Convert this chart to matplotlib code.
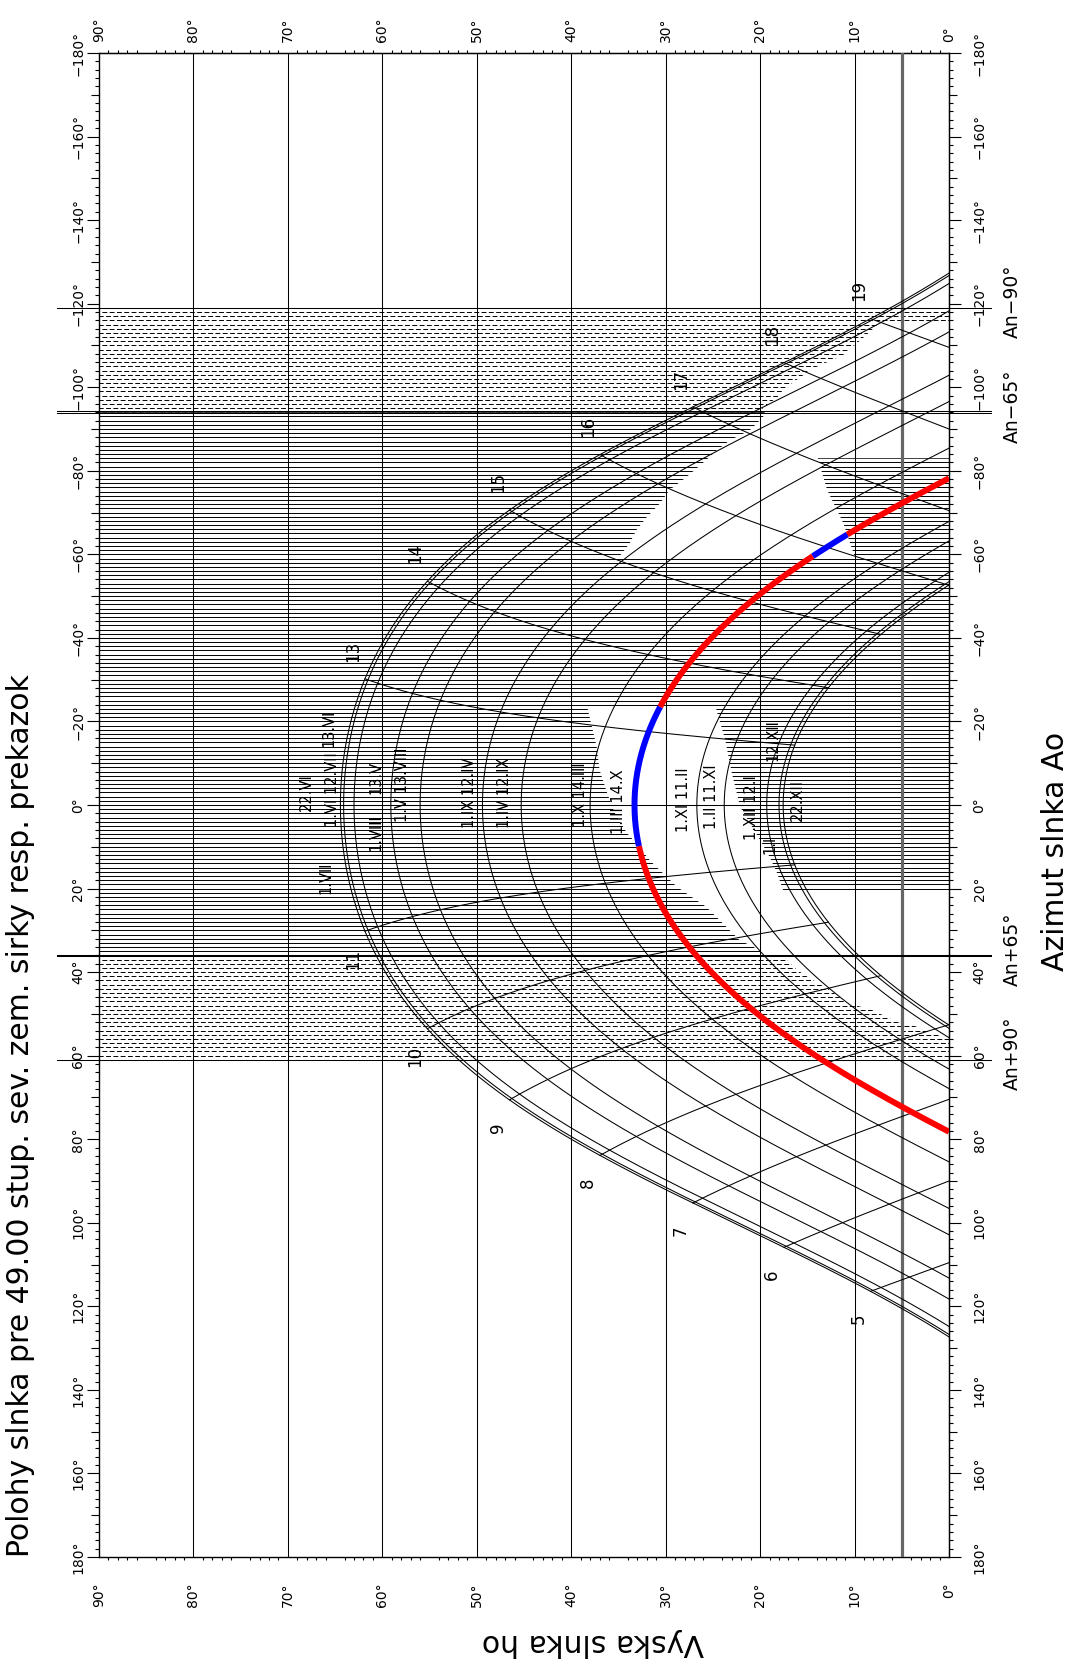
import numpy as np
import matplotlib
matplotlib.use("Agg")
import matplotlib.pyplot as plt
import matplotlib.transforms as mtransforms
from matplotlib.path import Path
from matplotlib.patches import PathPatch
from matplotlib.ticker import FixedLocator, FuncFormatter

plt.rcParams['font.family'] = ['DejaVu Sans']

# ---- udaje ---------------------------------------------------------------
LAT = 49.0      # severna zemepisna sirka
AN = -29.0      # azimut normaly steny (An)

# deklinacie slnka pre krivky datumov (22.VI ... 22.XII)
decl = [23.44, 23.1, 22.0, 18.1, 15.0, 8.4, 4.3, -3.0, -7.7, -14.3, -17.2, -21.7, -23.0, -23.44]
decl_sel = -7.7          # 1.III / 14.X - zvyraznena krivka
hours = [5, 6, 7, 8, 9, 10, 11, 12, 13, 14, 15, 16, 17, 18, 19]

# popisy datumov: text, vyska, azimut
date_text = ["22.VI", "1.VI 12.VII", "13.VI", "1.VII", "1.VIII", "13.V", "1.V 13.VIII",
             "1.IX 12.IV", "1.IV 12.IX", "1.X 14.III", "1.III 14.X", "1.XI 11.II",
             "1.II 11.XI", "1.XII 12.I", "1.I", "12.XII", "22.XII"]
date_alt = [68.0, 65.3, 65.7, 66.0, 60.7, 60.7, 57.9, 50.8, 47.1, 39.0, 35.0, 28.1,
            25.1, 20.9, 19.0, 18.6, 16.1]
date_az = [-3.1, -3.6, -18.4, 17.5, 6.5, -6.5, -4.8, -2.9, -2.9, -2.4, -0.7, -1.2,
           -1.9, 0.7, 9.6, -15.6, -1.2]

# volne (nezatienene) okna - obrys (azimut, vyska)
win1_az = [-94, -92.8, -89.7, -87.3, -84.9, -81.8, -78.5, -75.4, -72.2, -68.9, -65.8,
           -62.7, -59.5, -59.5, -67.5, -75.4, -83, -83, -94]
win1_alt = [19.5, 19.7, 21.1, 23.2, 24.6, 26.1, 27.8, 29.6, 30.6, 32.0, 33.1,
            33.8, 34.9, 10.0, 11.2, 12.9, 13.9, 0, 0]
win2_az = [-23.4, -18.7, -13.9, -8.4, -2.9, 1.9, 6.7, 10.0, 13.2, 16.3, 19.6, 24.4,
           28.2, 32.3, 34.7, 36, 36, 20.8, 20.8, 16.3, 12.4, 8.4, 4.3, 0.5, -7.7,
           -15.6, -23.4]
win2_alt = [38.3, 37.8, 37.3, 37.0, 36.2, 35.4, 34.1, 32.8, 31.7, 30.3, 28.8, 25.7,
            24.0, 22.2, 20.1, 19.6, 0, 0, 17.5, 18.2, 19.0, 20.0, 21.1, 22.1, 23.0,
            23.7, 24.7]

# ciastocne tienenie (ciarkovane) - obrys (azimut, vyska)
dashA_az = [-119, -119, -115.5, -115.5, -111.2, -107.7, -104.5, -101.2, -98.1, -95.0, -94, -94]
dashA_alt = [90, 0, 0, 7.3, 9.4, 11.2, 14.4, 16.5, 17.9, 19.7, 19.7, 90]
dashB_az = [36, 36, 39.5, 41.9, 44.3, 47.4, 49.0, 51.4, 53.0, 55.5, 56, 61, 61]
dashB_alt = [90, 17.6, 16.1, 14.4, 12.6, 10.8, 8.2, 6.0, 3.5, 0.6, 0, 0, 90]

an_off = [-90, -65, 65, 90]
an_text = ["An\u221290\u00b0", "An\u221265\u00b0", "An+65\u00b0", "An+90\u00b0"]


def sun(dec, H):
    phi, d, h = np.radians(LAT), np.radians(dec), np.radians(H)
    alt = np.degrees(np.arcsin(np.sin(phi) * np.sin(d) + np.cos(phi) * np.cos(d) * np.cos(h)))
    az = -np.degrees(np.arctan2(np.sin(h), np.sin(phi) * np.cos(h) - np.cos(phi) * np.tan(d)))
    return alt, az


def day_path(dec):
    H0 = np.degrees(np.arccos(-np.tan(np.radians(LAT)) * np.tan(np.radians(dec))))
    return sun(dec, np.linspace(-H0, H0, 721))


def ring(alt, az, positive):
    p = np.column_stack([alt, az]).astype(float)
    area = 0.5 * np.sum(p[:, 0] * np.roll(p[:, 1], -1) - np.roll(p[:, 0], -1) * p[:, 1])
    if (area > 0) != positive:
        p = p[::-1]
    codes = [Path.MOVETO] + [Path.LINETO] * (len(p) - 1) + [Path.CLOSEPOLY]
    return np.vstack([p, p[:1]]), codes


def clip_patch(rings):
    verts = np.vstack([r[0] for r in rings])
    codes = sum([r[1] for r in rings], [])
    patch = PathPatch(Path(verts, codes), transform=ax.transData,
                      facecolor='none', edgecolor='none')
    ax.add_patch(patch)
    return patch


fig = plt.figure(figsize=(10.75, 16.68), dpi=100)
ax = fig.add_axes([99 / 1075, 1 - 1557 / 1668, 850 / 1075, 1504 / 1668])
ax.set_xlim(90, 0)
ax.set_ylim(180, -180)

# --- srafovanie prekazok
solid_clip = clip_patch([ring([0, 90, 90, 0], [AN - 65, AN - 65, AN + 65, AN + 65], True),
                         ring(win1_alt, win1_az, False),
                         ring(win2_alt, win2_az, False)])
lc = ax.hlines(np.arange(AN - 65, AN + 66), 0, 90, colors='k', lw=0.7, zorder=2)
lc.set_clip_path(solid_clip)

for d_az, d_alt, rows in [(dashA_az, dashA_alt, np.arange(-119, -93)),
                          (dashB_az, dashB_alt, np.arange(36, 62))]:
    patch = clip_patch([ring(d_alt, d_az, True)])
    for k, off in enumerate([0, 3.7]):
        lc = ax.hlines(rows[k::2], 0, 90, colors='k', lw=0.7,
                       linestyles=[(off, (5, 2.5))], zorder=2)
        lc.set_clip_path(patch)

# --- mriezka
for a in range(10, 90, 10):
    ax.axvline(a, color='k', lw=0.75, zorder=3)
ax.axvline(5, color='#666666', lw=2.3, zorder=3)

trans = mtransforms.blended_transform_factory(ax.transAxes, ax.transData)
for off, txt in zip(an_off, an_text):
    az = AN + off
    ys = [az - 0.2, az + 0.2] if abs(off) == 65 else [az]
    for y in ys:
        ax.plot([-0.05, 1.05], [y, y], color='k', lw=0.75, transform=trans,
                clip_on=False, zorder=4)
    ax.text(1.0745, az - 1.5, txt, transform=trans, rotation=90, ha='center',
            va='center', fontsize=13.5)

# --- popisy datumov (pod srafovanim)
for txt, a, z in zip(date_text, date_alt, date_az):
    ax.text(a, z, txt, rotation=90, ha='center', va='center', fontsize=10.5, zorder=1)

# --- krivky datumov
for d in decl:
    alt, az = day_path(d)
    ax.plot(alt, az, color='k', lw=0.75, zorder=4)

# --- hodinove ciary
for t in hours:
    H = 15.0 * (t - 12)
    d0 = np.degrees(np.arctan(-np.cos(np.radians(H)) / np.tan(np.radians(LAT))))
    d = np.linspace(max(d0, min(decl)), max(decl), 200)
    alt, az = sun(d, H)
    ax.plot(alt, az, color='k', lw=0.75, zorder=4)
    if t != 12:
        ax.annotate(str(t), (alt[-1], az[-1]), xytext=(-8.5, 20 if az[-1] < 0 else -20),
                    textcoords='offset points', rotation=90, ha='center', va='center',
                    fontsize=12, zorder=1)

# --- zvyraznena krivka (modra = slnko viditelne oknom)
alt_s, az_s = day_path(decl_sel)
pts = np.column_stack([alt_s, az_s])
vis = (Path(np.column_stack([win1_alt, win1_az])).contains_points(pts)
       | Path(np.column_stack([win2_alt, win2_az])).contains_points(pts))
start = 0
for i in range(1, len(vis) + 1):
    if i == len(vis) or vis[i] != vis[start]:
        seg = slice(start, min(i + 1, len(vis)))
        ax.plot(alt_s[seg], az_s[seg], color='#0000ff' if vis[start] else '#ff0000',
                lw=4.3, solid_capstyle='butt', zorder=6)
        start = i

# --- osi
deg = lambda v: f"{v:.0f}\u00b0".replace('-', '\u2212')
ax.xaxis.set_major_locator(FixedLocator(np.arange(0, 91, 5)))
ax.xaxis.set_minor_locator(FixedLocator(np.arange(0, 91, 1)))
ax.xaxis.set_major_formatter(FuncFormatter(lambda v, p: deg(v) if v % 10 == 0 else ""))
ax.tick_params(axis='x', which='both', top=True, bottom=True, labeltop=False,
               labelbottom=True, direction='out', width=0.8)
ax.tick_params(axis='x', which='major', length=5.5, labelrotation=90, labelsize=10, pad=13)
ax.tick_params(axis='x', which='minor', length=2.3)
for t in ax.xaxis.get_major_ticks():
    if t.get_loc() % 10 == 0:
        t.tick1line.set_markersize(0)
        t.tick2line.set_markersize(0)

ax.yaxis.set_major_locator(FixedLocator(np.arange(-180, 181, 10)))
ax.yaxis.set_minor_locator(FixedLocator(np.arange(-180, 181, 2)))
ax.yaxis.set_major_formatter(FuncFormatter(lambda v, p: deg(v) if v % 20 == 0 else ""))
ax.tick_params(axis='y', which='both', left=True, right=True, labelleft=True,
               labelright=False, direction='out', width=0.8)
ax.tick_params(axis='y', which='major', length=8.5, labelrotation=90, labelsize=10, pad=1.5)
ax.tick_params(axis='y', which='minor', length=2.8)
plt.setp(ax.get_yticklabels(), va='center')
for t in ax.yaxis.get_major_ticks():
    if t.get_loc() % 20 != 0:
        t.tick1line.set_markersize(5.8)
        t.tick2line.set_markersize(5.8)

sx = ax.secondary_xaxis('top')
sx.set_xticks(np.arange(0, 91, 10))
sx.xaxis.set_major_formatter(FuncFormatter(lambda v, p: deg(v)))
sx.tick_params(length=0, pad=8, labelrotation=90, labelsize=10)

sy = ax.secondary_yaxis('right')
sy.set_yticks(np.arange(-180, 181, 20))
sy.yaxis.set_major_formatter(FuncFormatter(lambda v, p: deg(v)))
sy.tick_params(length=0, pad=17, labelrotation=90, labelsize=10)
plt.setp(sy.get_yticklabels(), va='center')

for s in ax.spines.values():
    s.set_linewidth(1.0)

fig.text(21 / 1075, 1 - 1557 / 1668,
         "Polohy slnka pre 49.00 stup. sev. zem. sirky resp. prekazok",
         rotation=90, ha='center', va='bottom', fontsize=21.5)
fig.text(1056 / 1075, 1 - 851 / 1668, "Azimut slnka Ao", rotation=90,
         ha='center', va='center', fontsize=21.5)
fig.text(593 / 1075, 1 - 1642 / 1668, "Vyska slnka ho", rotation=180,
         ha='center', va='center', fontsize=21.5)

fig.savefig("out.png", dpi=100, facecolor='white')
